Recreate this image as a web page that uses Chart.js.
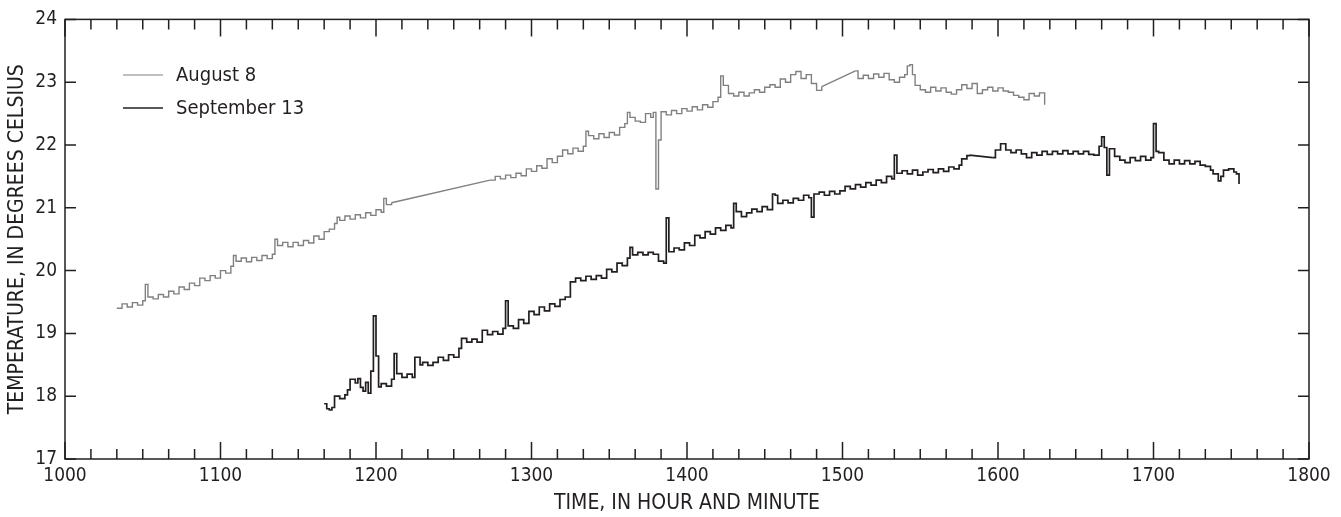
<!DOCTYPE html>
<html>
<head>
<meta charset="utf-8">
<title>Temperature, August 8 and September 13</title>
<script src="https://cdn.jsdelivr.net/npm/chart.js@4.4.1/dist/chart.umd.min.js"></script>
<style>
  html, body { margin: 0; padding: 0; background: #fff; }
  #chart { display: block; }
</style>
</head>
<body>
<canvas id="chart" width="1341" height="517"></canvas>
<script>
"use strict";

const FONT = '"Liberation Sans Narrow", "Arial Narrow", "DejaVu Sans Condensed", sans-serif';
const INK = "#231f20";

const xTickLabels = ["1000", "1100", "1200", "1300", "1400", "1500", "1600", "1700", "1800"];
const yTickValues = [17, 18, 19, 20, 21, 22, 23, 24];
const seriesNames = ["August 8", "September 13"];

// clock time (hhmm) and water temperature, degrees Celsius
const augTime = [
  1020, 1022, 1024, 1026, 1028, 1030, 1031, 1032, 1034, 1036, 1038, 1040, 1042, 1044, 1046, 1048, 1050, 1052, 1054, 1056,
  1058, 1100, 1102, 1104, 1105, 1106, 1108, 1110, 1112, 1114, 1116, 1118, 1120, 1121, 1122, 1124, 1126, 1128, 1130, 1132,
  1134, 1136, 1138, 1140, 1142, 1144, 1145, 1146, 1148, 1150, 1152, 1154, 1156, 1158, 1200, 1202, 1203, 1204, 1206,
  1244, 1246, 1248, 1250, 1252, 1254, 1256, 1258, 1300, 1302, 1304, 1306, 1308, 1310, 1312, 1314, 1316, 1318, 1320, 1321,
  1322, 1324, 1326, 1328, 1330, 1332, 1334, 1336, 1337, 1338, 1340, 1342, 1344, 1346, 1347, 1348, 1349, 1350, 1352, 1354,
  1356, 1358, 1400, 1402, 1404, 1406, 1408, 1410, 1412, 1413, 1414, 1416, 1418, 1420, 1422, 1424, 1426, 1428, 1430, 1432,
  1434, 1436, 1438, 1440, 1442, 1444, 1446, 1448, 1450, 1452,
  1505, 1506, 1508, 1510, 1512, 1514, 1516, 1518, 1520, 1522, 1524, 1525, 1526, 1527, 1528, 1530, 1532, 1534, 1536, 1538,
  1540, 1542, 1544, 1546, 1548, 1550, 1552, 1554, 1556, 1558, 1600, 1602, 1604, 1606, 1608, 1610, 1612, 1614, 1616, 1618
];
const augTemp = [
  19.40, 19.47, 19.42, 19.49, 19.45, 19.52, 19.78, 19.58, 19.55, 19.62, 19.58, 19.67, 19.63, 19.74, 19.70, 19.80, 19.76, 19.88, 19.84, 19.92,
  19.88, 20.00, 19.96, 20.07, 20.24, 20.15, 20.20, 20.14, 20.21, 20.16, 20.24, 20.19, 20.26, 20.50, 20.40, 20.45, 20.38, 20.45, 20.40, 20.48,
  20.44, 20.55, 20.50, 20.62, 20.66, 20.75, 20.85, 20.80, 20.87, 20.82, 20.89, 20.84, 20.92, 20.88, 20.97, 20.93, 21.15, 21.05, 21.08,
  21.44, 21.50, 21.46, 21.52, 21.48, 21.55, 21.51, 21.62, 21.58, 21.67, 21.63, 21.78, 21.72, 21.82, 21.92, 21.86, 21.95, 21.90, 21.98, 22.22,
  22.15, 22.10, 22.18, 22.12, 22.20, 22.16, 22.28, 22.34, 22.52, 22.44, 22.38, 22.36, 22.50, 22.44, 22.52, 21.30, 22.08, 22.53, 22.48, 22.55,
  22.50, 22.58, 22.54, 22.61, 22.56, 22.64, 22.60, 22.69, 22.76, 23.10, 22.95, 22.82, 22.78, 22.84, 22.78, 22.83, 22.88, 22.84, 22.92, 22.96,
  22.92, 23.05, 23.00, 23.12, 23.17, 23.06, 23.12, 22.98, 22.87, 22.93,
  23.18, 23.06, 23.11, 23.06, 23.13, 23.08, 23.14, 23.04, 23.00, 23.08, 23.12, 23.26, 23.28, 23.12, 22.95, 22.88, 22.84, 22.92, 22.86, 22.91,
  22.84, 22.81, 22.88, 22.96, 22.90, 22.98, 22.82, 22.88, 22.92, 22.86, 22.91, 22.86, 22.84, 22.79, 22.76, 22.72, 22.82, 22.78, 22.83, 22.64
];

const sepTime = [
  1140, 1141, 1142, 1143, 1144, 1146, 1148, 1149, 1150, 1152, 1153, 1154, 1155, 1156, 1157, 1158, 1159, 1200, 1201, 1202,
  1204, 1206, 1207, 1208, 1210, 1212, 1214, 1215, 1217, 1218, 1220, 1222, 1224, 1226, 1228, 1230, 1232, 1233, 1235, 1237,
  1239, 1241, 1243, 1245, 1247, 1249, 1250, 1251, 1253, 1255, 1257, 1259, 1301, 1303, 1305, 1307, 1309, 1311, 1313, 1315,
  1317, 1319, 1321, 1323, 1325, 1327, 1329, 1331, 1333, 1335, 1337, 1338, 1339, 1341, 1343, 1345, 1347, 1349, 1351, 1352,
  1353, 1355, 1357, 1359, 1401, 1403, 1405, 1407, 1409, 1411, 1413, 1415, 1417, 1418, 1419, 1421, 1423, 1425, 1427, 1429,
  1431, 1433, 1434, 1435, 1437, 1439, 1441, 1443, 1445, 1447, 1448, 1449, 1451, 1453, 1455, 1457, 1459, 1501, 1503, 1505,
  1507, 1509, 1511, 1513, 1515, 1517, 1519, 1520, 1521, 1523, 1525, 1527, 1529, 1531, 1533, 1535, 1537, 1539, 1541, 1543,
  1545, 1546, 1548, 1549,
  1558, 1559, 1601, 1603, 1605, 1607, 1609, 1611, 1613, 1615, 1617, 1619, 1621, 1623, 1625, 1627, 1629, 1631, 1633, 1635,
  1637, 1639, 1640, 1641, 1642, 1643, 1645, 1647, 1649, 1651, 1653, 1655, 1657, 1659, 1700, 1701, 1702, 1704, 1706, 1708,
  1710, 1712, 1714, 1716, 1718, 1720, 1722, 1723, 1725, 1726, 1727, 1729, 1731, 1732, 1733
];
const sepTemp = [
  17.88, 17.80, 17.78, 17.82, 18.00, 17.96, 18.02, 18.10, 18.27, 18.21, 18.28, 18.14, 18.08, 18.22, 18.05, 18.40, 19.28, 18.64, 18.15, 18.20,
  18.16, 18.27, 18.68, 18.36, 18.30, 18.35, 18.30, 18.62, 18.50, 18.54, 18.49, 18.54, 18.62, 18.57, 18.66, 18.62, 18.76, 18.92, 18.86, 18.91,
  18.86, 19.05, 18.98, 19.03, 18.99, 19.08, 19.52, 19.12, 19.08, 19.22, 19.16, 19.35, 19.30, 19.42, 19.36, 19.47, 19.43, 19.54, 19.58, 19.82,
  19.88, 19.84, 19.91, 19.86, 19.92, 19.88, 20.02, 19.98, 20.12, 20.08, 20.20, 20.37, 20.25, 20.29, 20.25, 20.29, 20.26, 20.15, 20.12, 20.84,
  20.30, 20.36, 20.33, 20.44, 20.40, 20.56, 20.52, 20.62, 20.58, 20.68, 20.64, 20.72, 20.68, 21.07, 20.94, 20.86, 20.92, 20.98, 20.94, 21.02,
  20.97, 21.22, 21.20, 21.07, 21.12, 21.08, 21.15, 21.12, 21.20, 21.16, 20.85, 21.22, 21.25, 21.20, 21.26, 21.22, 21.27, 21.34, 21.30, 21.37,
  21.33, 21.40, 21.36, 21.44, 21.40, 21.50, 21.46, 21.84, 21.55, 21.59, 21.54, 21.60, 21.52, 21.57, 21.61, 21.56, 21.62, 21.58, 21.65, 21.62,
  21.68, 21.78, 21.83, 21.84,
  21.80, 21.92, 22.02, 21.92, 21.88, 21.92, 21.86, 21.80, 21.88, 21.84, 21.90, 21.85, 21.90, 21.86, 21.91, 21.86, 21.90, 21.86, 21.90, 21.85,
  21.84, 21.98, 22.13, 21.96, 21.52, 21.94, 21.82, 21.76, 21.72, 21.80, 21.75, 21.82, 21.76, 21.80, 22.34, 21.90, 21.88, 21.76, 21.70, 21.76,
  21.70, 21.75, 21.70, 21.74, 21.68, 21.66, 21.60, 21.54, 21.43, 21.50, 21.60, 21.62, 21.57, 21.54, 21.38
];

const app = {
  chart: null,
  grey: "#808080",
  init() {
    this.render();
  },
  clockToHours(t) {
    return Math.floor(t / 100) + (t % 100) / 60;
  },
  // stepped runs of readings, joined by straight lines across gaps in the record
  buildDatasets(label, times, temps, color, width) {
    const sets = [];
    let run = [];
    for (let i = 0; i < times.length; i++) {
      const pt = { x: this.clockToHours(times[i]), y: temps[i] };
      const prev = run[run.length - 1];
      if (prev && pt.x - prev.x > 5 / 60) {
        sets.push({ data: run, stepped: true });
        sets.push({ data: [prev, pt], stepped: false });
        run = [];
      }
      run.push(pt);
    }
    sets.push({ data: run, stepped: true });
    return sets.map(s => Object.assign(s, {
      label: label,
      borderColor: color,
      borderWidth: width,
      pointRadius: 0,
      fill: false,
      tension: 0
    }));
  },
  framePlugin: {
    id: "frame",
    afterDatasetsDraw(chart) {
      const { ctx, chartArea: a, scales } = chart;
      ctx.save();
      ctx.strokeStyle = INK;
      ctx.lineWidth = 1.5;
      ctx.strokeRect(a.left, a.top, a.right - a.left, a.bottom - a.top);
      ctx.beginPath();
      for (let k = 0; k <= 48; k++) {
        const x = scales.x.getPixelForValue(10 + k / 6);
        const len = k % 6 === 0 ? 17 : 10;
        ctx.moveTo(x, a.bottom);
        ctx.lineTo(x, a.bottom - len);
        ctx.moveTo(x, a.top);
        ctx.lineTo(x, a.top + len);
      }
      yTickValues.forEach(v => {
        const y = scales.y.getPixelForValue(v);
        ctx.moveTo(a.left, y);
        ctx.lineTo(a.left + 11, y);
        ctx.moveTo(a.right, y);
        ctx.lineTo(a.right - 11, y);
      });
      ctx.stroke();

      // legend, top left inside the plot
      const colors = [app.grey, INK];
      ctx.font = "20px " + FONT;
      ctx.textBaseline = "middle";
      ctx.fillStyle = INK;
      seriesNames.forEach((name, i) => {
        const y = 75 + i * 33;
        ctx.strokeStyle = colors[i];
        ctx.lineWidth = i === 0 ? 1.2 : 1.6;
        ctx.beginPath();
        ctx.moveTo(123, y);
        ctx.lineTo(163, y);
        ctx.stroke();
        ctx.fillText(name, 176, y + 1);
      });
      ctx.restore();
    }
  },
  render() {
    const datasets = [].concat(
      this.buildDatasets(seriesNames[0], augTime, augTemp, this.grey, 1.4),
      this.buildDatasets(seriesNames[1], sepTime, sepTemp, INK, 1.7)
    );
    const ctx = document.getElementById("chart").getContext("2d");
    this.chart = new Chart(ctx, {
      type: "line",
      data: { datasets: datasets },
      options: {
        responsive: false,
        animation: false,
        devicePixelRatio: 1,
        layout: { padding: { left: 0, top: 17, right: 32, bottom: 0 } },
        plugins: { legend: { display: false }, tooltip: { enabled: false } },
        scales: {
          x: {
            type: "linear",
            min: 10,
            max: 18,
            grid: { display: false, drawTicks: false },
            border: { display: false },
            ticks: {
              stepSize: 1,
              autoSkip: false,
              maxRotation: 0,
              padding: 6,
              color: INK,
              font: { family: FONT, size: 19 },
              callback: v => xTickLabels[Math.round(v - 10)]
            },
            title: {
              display: true,
              text: "TIME, IN HOUR AND MINUTE",
              color: INK,
              font: { family: FONT, size: 21 },
              padding: { top: 0, bottom: 1 }
            },
            afterFit: s => { s.height = 58; }
          },
          y: {
            min: 17,
            max: 24,
            grid: { display: false, drawTicks: false },
            border: { display: false },
            ticks: {
              stepSize: 1,
              padding: 8,
              color: INK,
              font: { family: FONT, size: 19 }
            },
            title: {
              display: true,
              text: "TEMPERATURE, IN DEGREES CELSIUS",
              color: INK,
              font: { family: FONT, size: 21 },
              padding: { top: 5, bottom: 0 }
            },
            afterFit: s => { s.width = 65; }
          }
        }
      },
      plugins: [this.framePlugin]
    });
  }
};

app.init();
</script>
</body>
</html>
